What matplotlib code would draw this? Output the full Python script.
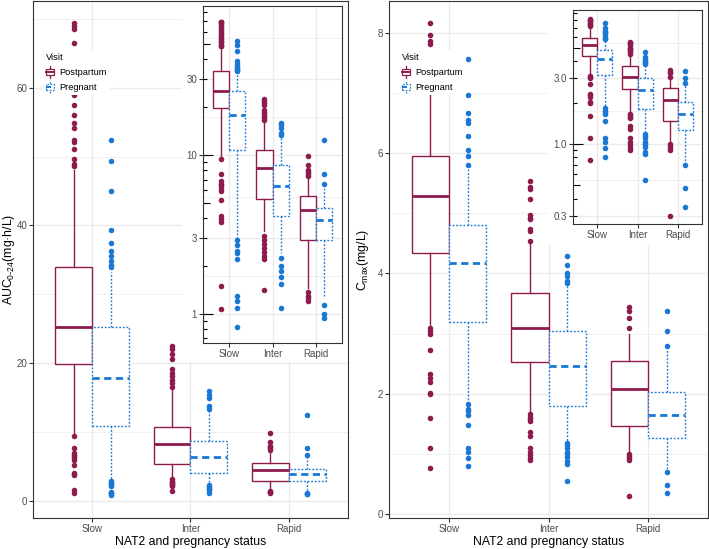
import numpy as np
import matplotlib
matplotlib.use("Agg")
import matplotlib.pyplot as plt
from matplotlib.patches import Rectangle
from matplotlib.lines import Line2D
from matplotlib.legend_handler import HandlerBase
from matplotlib.ticker import FixedLocator, NullFormatter
from matplotlib.transforms import blended_transform_factory

plt.rcParams["font.family"] = ["Liberation Sans", "DejaVu Sans"]
plt.rcParams["mathtext.default"] = "regular"

groups = ["Slow", "Inter", "Rapid"]
visits = ["Postpartum", "Pregnant"]

# AUC0-24 (mg·h/L) - postpartum
auc_pp_q1 = [19.9, 5.3, 2.9]
auc_pp_med = [25.3, 8.25, 4.5]
auc_pp_q3 = [33.9, 10.7, 5.5]
auc_pp_lo = [9.8, 3.3, 1.45]
auc_pp_hi = [48.0, 16.3, 7.2]
auc_pp_out = [
    [9.4, 7.6, 6.9, 6.6, 6.5, 6.2, 5.9, 5.2, 4.1, 3.95, 3.8, 1.5, 1.07,
     48.6, 48.9, 49.6, 51.1, 52.1, 52.4, 54.1, 54.9, 56.0, 57.5,
     59.0, 60.5, 62.0, 63.5, 65.0, 66.5, 68.5, 68.9, 69.4],
    [3.1, 2.9, 2.75, 2.6, 2.45, 2.3, 2.2, 1.41,
     16.6, 17.1, 17.6, 18.1, 18.6, 19.1, 20.6, 21.3, 22.0, 22.5],
    [1.38, 1.3, 1.25, 1.2, 7.4, 7.6, 7.8, 8.0, 8.6, 9.9],
]

# AUC0-24 (mg·h/L) - pregnant
auc_pr_q1 = [10.8, 4.1, 2.9]
auc_pr_med = [17.8, 6.4, 3.9]
auc_pr_q3 = [25.3, 8.65, 4.65]
auc_pr_lo = [3.0, 2.4, 1.25]
auc_pr_hi = [33.3, 13.0, 6.3]
auc_pr_out = [
    [2.9, 2.7, 2.5, 2.4, 2.2, 1.3, 1.2, 1.08, 0.82,
     33.9, 34.3, 34.8, 35.6, 36.3, 37.4, 39.4, 45.0, 49.3, 52.4],
    [2.25, 2.0, 1.85, 1.7, 1.55, 1.08, 13.3, 13.7, 14.9, 15.4, 15.9],
    [1.13, 1.0, 0.94, 6.6, 7.6, 12.4],
]

# Cmax (mg/L) - postpartum
cmax_pp_q1 = [4.34, 2.53, 1.47]
cmax_pp_med = [5.29, 3.09, 2.08]
cmax_pp_q3 = [5.96, 3.68, 2.54]
cmax_pp_lo = [3.15, 1.7, 1.04]
cmax_pp_hi = [7.05, 4.5, 3.0]
cmax_pp_out = [
    [3.1, 3.05, 3.0, 2.73, 2.33, 2.27, 2.2, 2.02, 2.0, 1.6, 1.1, 0.77,
     7.2, 7.35, 7.5, 7.65, 7.81, 7.86, 7.97, 8.16],
    [1.66, 1.62, 1.58, 1.55, 1.36, 1.29, 1.1, 1.03, 0.98, 0.93, 0.9,
     4.54, 4.71, 4.74, 4.9, 4.93, 4.97, 5.23, 5.40, 5.43, 5.53],
    [1.0, 0.97, 0.93, 0.9, 0.30, 3.09, 3.26, 3.37, 3.45],
]

# Cmax (mg/L) - pregnant
cmax_pr_q1 = [3.19, 1.80, 1.27]
cmax_pr_med = [4.17, 2.46, 1.65]
cmax_pr_q3 = [4.80, 3.04, 2.03]
cmax_pr_lo = [1.88, 1.22, 0.75]
cmax_pr_hi = [5.75, 3.8, 2.72]
cmax_pr_out = [
    [1.83, 1.75, 1.72, 1.65, 1.48, 1.1, 1.03, 0.93, 0.8,
     5.8, 5.95, 6.05, 6.28, 6.5, 6.55, 6.66, 6.97, 7.56],
    [1.18, 1.15, 1.1, 1.03, 1.0, 0.95, 0.88, 0.84, 0.55,
     3.85, 3.88, 3.95, 4.0, 4.14, 4.29, 4.7],
    [0.70, 0.48, 0.35, 2.80, 3.04, 3.38],
]

PP_COL = "#8E1B4D"
PR_COL = "#1A78D4"
DOT = (0, (1.3, 1.3))
DASH = (0, (2.6, 1.6))


def box_stats(q1, med, q3, lo, hi, out):
    return [dict(q1=q1[i], med=med[i], q3=q3[i], whislo=lo[i], whishi=hi[i],
                 fliers=out[i]) for i in range(len(q1))]


def add_boxes(ax, stats, color, dotted):
    ls = DOT if dotted else "-"
    mls = DASH if dotted else "-"
    off = 0.1875 if dotted else -0.1875
    ax.bxp(stats, positions=np.arange(1, 4) + off, widths=0.375,
           showcaps=False, patch_artist=True, manage_ticks=False,
           boxprops=dict(facecolor="white", edgecolor=color, linewidth=1.0, linestyle=ls),
           whiskerprops=dict(color=color, linewidth=1.0, linestyle=ls),
           medianprops=dict(color=color, linewidth=2.0, linestyle=mls, solid_capstyle="butt"),
           flierprops=dict(marker="o", markersize=4.0, markerfacecolor=color,
                           markeredgewidth=0, linestyle="none"))


def style_axes(ax):
    for s in ax.spines.values():
        s.set_color("#333333")
        s.set_linewidth(0.8)
    ax.set_axisbelow(True)
    ax.grid(which="major", color="#EBEBEB", linewidth=1.0)
    ax.grid(which="minor", axis="y", color="#EBEBEB", linewidth=0.5)
    ax.tick_params(which="major", length=2.75, width=0.8, color="#333333",
                   labelcolor="#4D4D4D", labelsize=7.0, pad=1.5)
    ax.tick_params(which="minor", length=0)
    ax.set_xlim(0.4, 3.6)
    ax.set_xticks([1, 2, 3])
    ax.set_xticklabels(groups)


def log_ticks(ax, wpx):
    trans = blended_transform_factory(ax.transAxes, ax.transData)
    lo, hi = ax.get_ylim()
    for k in range(-2, 3):
        for m in range(1, 10):
            v = m * 10.0 ** k
            if lo <= v <= hi:
                L = 10 if m == 1 else (7 if m == 5 else 3.5)
                ax.plot([0, L / wpx], [v, v], transform=trans, color="black",
                        linewidth=0.8, solid_capstyle="butt")
    ax.set_ylim(lo, hi)


class BoxKey(HandlerBase):
    def __init__(self, color, ls, mls):
        super().__init__()
        self.color, self.ls, self.mls = color, ls, mls

    def create_artists(self, legend, orig_handle, xdescent, ydescent, width,
                       height, fontsize, trans):
        cx = -xdescent + width / 2
        y0 = -ydescent
        bw = width * 0.95
        whisk = Line2D([cx, cx], [y0 - 0.5, y0 + height + 0.5], color=self.color,
                       linewidth=0.9, linestyle=self.ls, transform=trans)
        box = Rectangle((cx - bw / 2, y0 + height * 0.22), bw, height * 0.56,
                        facecolor="white", edgecolor=self.color, linewidth=0.9,
                        linestyle=self.ls, transform=trans)
        med = Line2D([cx - bw / 2, cx + bw / 2], [y0 + height / 2] * 2,
                     color=self.color, linewidth=1.4, linestyle=self.mls,
                     transform=trans)
        return [whisk, box, med]


def add_legend(ax, fig, x, y):
    h1 = Line2D([], [], color=PP_COL)
    h2 = Line2D([], [], color=PR_COL)
    ax.legend([h1, h2], visits, title="Visit", loc="upper left",
              bbox_to_anchor=(x / 709, 1 - y / 549), bbox_transform=fig.transFigure,
              handler_map={h1: BoxKey(PP_COL, "-", "-"), h2: BoxKey(PR_COL, DOT, DASH)},
              fontsize=6.7, title_fontsize=6.7, frameon=True, fancybox=False,
              edgecolor="none", facecolor="white", framealpha=1,
              handlelength=0.9, handleheight=1.4, handletextpad=0.55,
              labelspacing=0.45, borderpad=0.35, borderaxespad=0, alignment="left")


def px_rect(x0, x1, y0, y1):
    return [x0 / 709, 1 - y1 / 549, (x1 - x0) / 709, (y1 - y0) / 549]


fig = plt.figure(figsize=(7.09, 5.49), dpi=100)

auc_pp = box_stats(auc_pp_q1, auc_pp_med, auc_pp_q3, auc_pp_lo, auc_pp_hi, auc_pp_out)
auc_pr = box_stats(auc_pr_q1, auc_pr_med, auc_pr_q3, auc_pr_lo, auc_pr_hi, auc_pr_out)
cmax_pp = box_stats(cmax_pp_q1, cmax_pp_med, cmax_pp_q3, cmax_pp_lo, cmax_pp_hi, cmax_pp_out)
cmax_pr = box_stats(cmax_pr_q1, cmax_pr_med, cmax_pr_q3, cmax_pr_lo, cmax_pr_hi, cmax_pr_out)

panels = [
    dict(rect=px_rect(33, 348, 1, 518), inset=px_rect(203, 342, 5.7, 342.7),
         pp=auc_pp, pr=auc_pr, ylim=(-2.5, 72.6), yticks=[0, 20, 40, 60],
         yminor=[10, 30, 50, 70], ylabel=r"AUC$_{0\text{-}24}$(mg·h/L)", labx=-0.077,
         bg=(0.473, 0.3037), inylim=(0.657, 87.3), inticks=[1, 3, 10, 30],
         inlabels=["1", "3", "10", "30"], inminor=[1.732, 5.477, 17.32, 54.77],
         inw=139, leg=(42.5, 50)),
    dict(rect=px_rect(389.3, 707.7, 1, 518.3), inset=px_rect(573, 702, 10, 224),
         pp=cmax_pp, pr=cmax_pr, ylim=(-0.07, 8.53), yticks=[0, 2, 4, 6, 8],
         yminor=[1, 3, 5, 7], ylabel=r"C$_{max}$(mg/L)", labx=-0.082,
         bg=(0.498, 0.528), inylim=(0.261, 9.46), inticks=[0.3, 1, 3],
         inlabels=["0.3", "1.0", "3.0"], inminor=[0.5477, 1.732, 5.477],
         inw=129, leg=(398.5, 50)),
]

for p in panels:
    ax = fig.add_axes(p["rect"])
    style_axes(ax)
    add_boxes(ax, p["pp"], PP_COL, False)
    add_boxes(ax, p["pr"], PR_COL, True)
    ax.set_ylim(*p["ylim"])
    ax.set_yticks(p["yticks"])
    ax.yaxis.set_minor_locator(FixedLocator(p["yminor"]))
    ax.yaxis.set_minor_formatter(NullFormatter())
    ax.set_ylabel(p["ylabel"], fontsize=8.8, va="center")
    ax.yaxis.set_label_coords(p["labx"], 0.5)
    ax.set_xlabel("NAT2 and pregnancy status", fontsize=8.8, va="center")
    ax.xaxis.set_label_coords(0.5, -0.0455)
    bx, by = p["bg"]
    ax.add_patch(Rectangle((bx, by), 1 - bx, 1 - by, transform=ax.transAxes,
                           facecolor="white", edgecolor="none", zorder=2.4))
    add_legend(ax, fig, *p["leg"])

    axi = fig.add_axes(p["inset"])
    style_axes(axi)
    axi.set_yscale("log")
    add_boxes(axi, p["pp"], PP_COL, False)
    add_boxes(axi, p["pr"], PR_COL, True)
    axi.set_ylim(*p["inylim"])
    axi.set_yticks(p["inticks"], p["inlabels"])
    axi.yaxis.set_minor_locator(FixedLocator(p["inminor"]))
    axi.yaxis.set_minor_formatter(NullFormatter())
    axi.tick_params(which="minor", length=0)
    log_ticks(axi, p["inw"])

fig.savefig("out.png", dpi=100)
